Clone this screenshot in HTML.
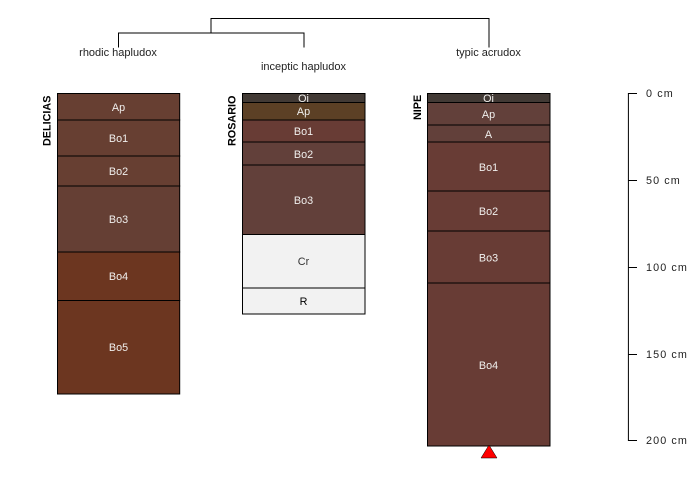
<!DOCTYPE html>
<html>
<head>
<meta charset="utf-8">
<style>
html,body{margin:0;padding:0;background:#fff;}
svg{display:block;}
text{font-family:"Liberation Sans",sans-serif;font-size:10.8px;}
.h{text-anchor:middle;fill:#f0efed;}
.l{text-anchor:middle;fill:#222;font-size:11px;}
.n{font-weight:bold;fill:#000;font-size:10.8px;}
.s{fill:#222;letter-spacing:1.1px;}
rect{stroke:#000;stroke-width:1;}
</style>
</head>
<body>
<svg width="700" height="500" viewBox="0 0 700 500" xmlns="http://www.w3.org/2000/svg">
<g fill="none" stroke="#000" stroke-width="1">
<path d="M211 33V18.5H489V47.5"/>
<path d="M118.5 47.5V33H304V47.5"/>
</g>
<text class="l" x="118" y="56">rhodic hapludox</text>
<text class="l" x="303.5" y="70">inceptic hapludox</text>
<text class="l" x="488.5" y="56">typic acrudox</text>

<text class="n" transform="translate(50.5,146) rotate(-90)">DELICIAS</text>
<text class="n" transform="translate(235.5,146) rotate(-90)">ROSARIO</text>
<text class="n" transform="translate(421,120) rotate(-90)">NIPE</text>

<rect x="57.5" y="93.5" width="122.2" height="26.5" fill="#673f32"/>
<rect x="57.5" y="120" width="122.2" height="36" fill="#673f32"/>
<rect x="57.5" y="156" width="122.2" height="30" fill="#673f32"/>
<rect x="57.5" y="186" width="122.2" height="66" fill="#653f34"/>
<rect x="57.5" y="252" width="122.2" height="48.5" fill="#6c3620"/>
<rect x="57.5" y="300.5" width="122.2" height="93.5" fill="#6c3620"/>
<text class="h" x="118.5" y="111">Ap</text>
<text class="h" x="118.5" y="142">Bo1</text>
<text class="h" x="118.5" y="175">Bo2</text>
<text class="h" x="118.5" y="223">Bo3</text>
<text class="h" x="118.5" y="280">Bo4</text>
<text class="h" x="118.5" y="351">Bo5</text>

<rect x="242.5" y="93.5" width="122.5" height="9" fill="#423a35"/>
<rect x="242.5" y="102.5" width="122.5" height="17.5" fill="#5c4025"/>
<rect x="242.5" y="120" width="122.5" height="22" fill="#683c35"/>
<rect x="242.5" y="142" width="122.5" height="23" fill="#62403a"/>
<rect x="242.5" y="165" width="122.5" height="69.5" fill="#62403a"/>
<rect x="242.5" y="234.5" width="122.5" height="53.5" fill="#f2f2f2"/>
<rect x="242.5" y="288" width="122.5" height="26" fill="#f2f2f2"/>
<text class="h" x="303.5" y="102">Oi</text>
<text class="h" x="303.5" y="115">Ap</text>
<text class="h" x="303.5" y="135">Bo1</text>
<text class="h" x="303.5" y="158">Bo2</text>
<text class="h" x="303.5" y="204">Bo3</text>
<text x="303.5" y="265" style="text-anchor:middle;fill:#333">Cr</text>
<text x="303.5" y="305" style="text-anchor:middle;fill:#000">R</text>

<rect x="427.5" y="93.5" width="122.5" height="9" fill="#423a35"/>
<rect x="427.5" y="102.5" width="122.5" height="22.5" fill="#62403a"/>
<rect x="427.5" y="125" width="122.5" height="17" fill="#62403a"/>
<rect x="427.5" y="142" width="122.5" height="49" fill="#683c35"/>
<rect x="427.5" y="191" width="122.5" height="40" fill="#683c35"/>
<rect x="427.5" y="231" width="122.5" height="52" fill="#683c35"/>
<rect x="427.5" y="283" width="122.5" height="163" fill="#683c35"/>
<text class="h" x="488.5" y="102">Oi</text>
<text class="h" x="488.5" y="118">Ap</text>
<text class="h" x="488.5" y="138">A</text>
<text class="h" x="488.5" y="171">Bo1</text>
<text class="h" x="488.5" y="215">Bo2</text>
<text class="h" x="488.5" y="261.5">Bo3</text>
<text class="h" x="488.5" y="369">Bo4</text>

<polygon points="489,445 497,458 481,458" fill="#ff0000" stroke="#000" stroke-width="0.5"/>

<path d="M637 93.5H628.4V440.5H637M628.4 180.5H637M628.4 267.5H637M628.4 354.5H637" fill="none" stroke="#000" stroke-width="1"/>
<text class="s" x="646" y="97">0 cm</text>
<text class="s" x="646" y="184">50 cm</text>
<text class="s" x="646" y="271">100 cm</text>
<text class="s" x="646" y="358">150 cm</text>
<text class="s" x="646" y="444">200 cm</text>
</svg>
</body>
</html>
